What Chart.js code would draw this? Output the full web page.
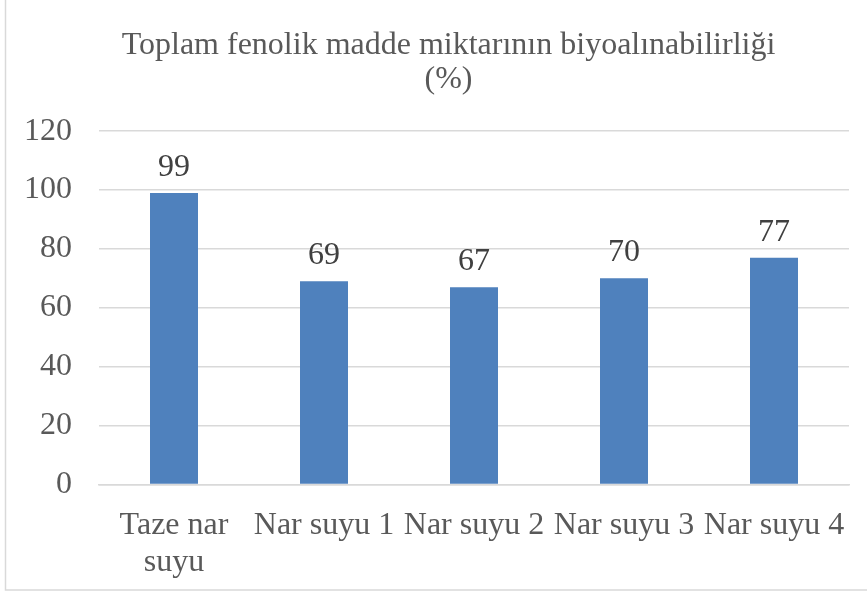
<html>
<head>
<style>
  body { margin: 0; background: #fff; }
  #wrap { position: relative; width: 867px; height: 597px; }
</style>
</head>
<body>
<div id="wrap"><canvas id="myChart" width="867" height="597"></canvas></div>
<script src="https://cdn.jsdelivr.net/npm/chart.js@4.4.0/dist/chart.umd.min.js"></script>
<script>
var labels = [["Taze nar", "suyu"], "Nar suyu 1", "Nar suyu 2", "Nar suyu 3", "Nar suyu 4"];
var values = [99, 69, 67, 70, 77];
var yTicks = [0, 20, 40, 60, 80, 100, 120];
var titleLines = ["Toplam fenolik madde miktarının biyoalınabilirliği", "(%)"];

var serif = "'Liberation Serif', 'Times New Roman', serif";

// draws value above each bar + the chart frame, nudges the title right
var barValues = {
  id: 'barValues',
  afterLayout: function(chart) {
    var t = chart.titleBlock;
    if (t) { t.left += 14; t.right += 14; }
  },
  afterDatasetsDraw: function(chart) {
    var ctx = chart.ctx;
    var meta = chart.getDatasetMeta(0);
    ctx.save();
    ctx.font = "32px " + serif;
    ctx.fillStyle = "#404040";
    ctx.textAlign = "center";
    ctx.textBaseline = "alphabetic";
    meta.data.forEach(function(bar, i) {
      ctx.fillText(values[i], bar.x, bar.y - 17);
    });
    ctx.restore();
  },
  beforeDraw: function(chart) {
    var ctx = chart.ctx;
    ctx.save();
    ctx.strokeStyle = "#d9d9d9";
    ctx.lineWidth = 1.5;
    ctx.strokeRect(5.5, -5, 870, 595);
    ctx.restore();
  }
};

new Chart(document.getElementById("myChart"), {
  type: 'bar',
  data: {
    labels: labels,
    datasets: [{
      data: values,
      backgroundColor: "#4f81bd",
      borderWidth: 0,
      categoryPercentage: 1,
      barPercentage: 0.32
    }]
  },
  options: {
    responsive: false,
    animation: false,
    layout: { padding: { left: 20, right: 18, top: 0, bottom: 1 } },
    plugins: {
      legend: { display: false },
      tooltip: { enabled: false },
      title: {
        display: true,
        text: titleLines,
        color: "#595959",
        font: { family: serif, size: 32, weight: 'normal', lineHeight: 1.05 },
        padding: { top: 29, bottom: 35 }
      }
    },
    scales: {
      x: {
        grid: { display: false },
        border: { color: "#d9d9d9", width: 1.5 },
        ticks: {
          color: "#595959",
          font: { family: serif, size: 32, lineHeight: 1.15 },
          maxRotation: 0,
          autoSkip: false,
          padding: 15
        }
      },
      y: {
        min: 0,
        max: 120,
        afterBuildTicks: function(axis) {
          axis.ticks = yTicks.map(function(v) { return { value: v }; });
        },
        afterFit: function(axis) { axis.width = 79; },
        grid: { color: "#d9d9d9", lineWidth: 1.5, drawTicks: false },
        border: { display: false },
        ticks: {
          color: "#595959",
          font: { family: serif, size: 32 },
          padding: 27
        }
      }
    }
  },
  plugins: [barValues]
});
</script>
</body>
</html>
